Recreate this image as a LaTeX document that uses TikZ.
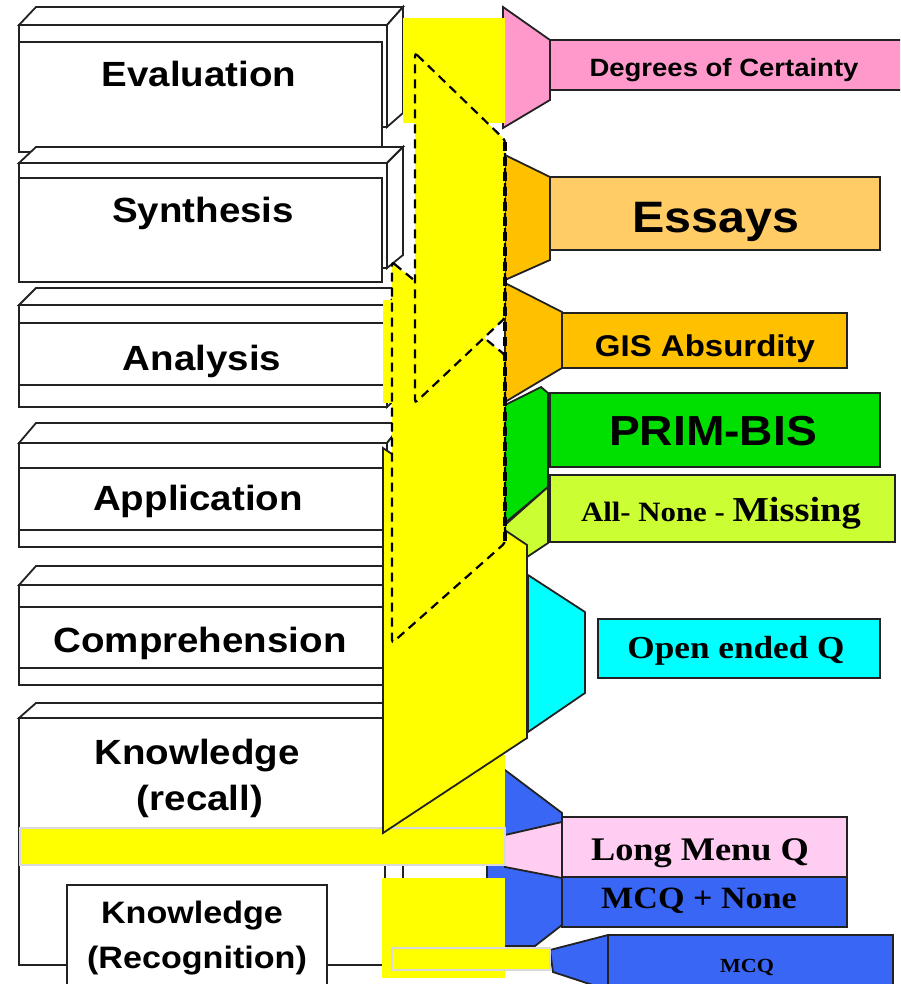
\documentclass[tikz,border=0pt]{standalone}
\usepackage{fontspec}
\setmainfont{Liberation Sans}[FakeStretch=1.1]
\newfontfamily\serifb{Liberation Serif}[FakeStretch=1.1]
\definecolor{ylw}{HTML}{FFFF00}
\definecolor{pinkc}{HTML}{FF99CC}
\definecolor{orl}{HTML}{FFCC66}
\definecolor{ord}{HTML}{FFC000}
\definecolor{grn}{HTML}{00E000}
\definecolor{limec}{HTML}{CCFF33}
\definecolor{cyn}{HTML}{00FFFF}
\definecolor{lpink}{HTML}{FFCCF2}
\definecolor{blu}{HTML}{3A66F5}
\definecolor{edge}{HTML}{222222}
\newcommand\bslab[5]{%
  \draw[slabf] (19,#2) rectangle (387,#5);
  \draw[slabf] (19,#2) -- (36,#1) -- (403,#1) -- (387,#2) -- cycle;
  \draw[slabf] (387,#2) -- (403,#1) -- (403,{#5-15}) -- (387,#5) -- cycle;
  \draw[ln] (19,#3) -- (387,#3) (19,#4) -- (387,#4);
}
\begin{document}
\begin{tikzpicture}[x=1pt,y=-1pt,
  ln/.style={draw=edge, line width=1.8pt},
  slabf/.style={ln, fill=white},
  lab/.style={anchor=base, inner sep=0pt, font=\bfseries\fontsize{35}{40}\selectfont},
  rlab/.style={anchor=base, inner sep=0pt, font=\bfseries},
  slab/.style={anchor=base, inner sep=0pt, font=\serifb\bfseries},
  dsh/.style={draw=black, line width=2.2pt, dash pattern=on 9pt off 6pt},
  lbar/.style={fill=ylw, draw=black!15, line width=1.2pt}]
\path[use as bounding box] (0,0) rectangle (900,984);
\clip (0,0) rectangle (900,984);

% ---------- left slabs ----------
% Evaluation
\draw[slabf] (19,25) rectangle (387,127);
\draw[slabf] (19,25) -- (36,7) -- (403,7) -- (387,25) -- cycle;
\draw[slabf] (387,25) -- (403,7) -- (403,113) -- (387,127) -- cycle;
\draw[slabf] (19,42) rectangle (382,152);
% Synthesis
\draw[slabf] (19,163) rectangle (387,268);
\draw[slabf] (19,163) -- (36,147) -- (403,147) -- (387,163) -- cycle;
\draw[slabf] (387,163) -- (403,147) -- (403,255) -- (387,268) -- cycle;
\draw[slabf] (19,178) rectangle (382,282);
% Analysis, Application, Comprehension
\bslab{288}{305}{323}{385}{407}
\bslab{423}{443}{468}{530}{547}
\bslab{566}{585}{607}{668}{685}
% Knowledge
\draw[slabf] (19,718) rectangle (385,965);
\draw[slabf] (19,718) -- (36,703) -- (403,703) -- (385,718) -- cycle;
\draw[slabf] (385,718) -- (403,703) -- (403,950) -- (385,965) -- cycle;
\draw[slabf] (67,885) rectangle (327,1000);

% ---------- right trapezoids and boxes ----------
\draw[ln, fill=pinkc] (503,7) -- (550,40) -- (550,100) -- (503,128) -- cycle;
\draw[ln, fill=pinkc] (550,40) rectangle (910,90);
\draw[ln, fill=ord] (505,155) -- (550,177) -- (550,260) -- (505,280) -- cycle;
\draw[ln, fill=orl] (550,177) rectangle (880,250);
\draw[ln, fill=ord] (505,283) -- (562,312) -- (562,368) -- (505,402) -- cycle;
\draw[ln, fill=ord] (562,313) rectangle (847,368);
\draw[ln, fill=grn] (505,405) -- (541,387) -- (548,393) -- (548,487) -- (505,523) -- cycle;
\draw[ln, fill=grn] (550,393) rectangle (880,467);
\draw[ln, fill=limec] (505,525) -- (548,487) -- (548,543) -- (527,557) -- (505,557) -- cycle;
\draw[ln, fill=limec] (550,475) rectangle (895,542);
\draw[ln, fill=cyn] (528,575) -- (585,612) -- (585,693) -- (528,732) -- cycle;
\draw[ln, fill=cyn] (598,619) rectangle (880,678);
\draw[ln, fill=blu] (487,770) -- (505,770) -- (562,813) -- (562,925) -- (535,946) -- (487,946) -- cycle;
\draw[ln, fill=lpink] (505,835) -- (562,822) -- (562,878) -- (505,867) -- cycle;
\draw[ln, fill=lpink] (562,817) rectangle (847,877);
\draw[ln, fill=blu] (562,877) rectangle (847,927);
\draw[ln, fill=blu] (550,950) -- (608,935) -- (608,990) -- (553,972) -- cycle;
\draw[ln, fill=blu] (608,935) rectangle (893,995);

% ---------- yellow column ----------
\fill[ylw] (403,18) rectangle (505,123);
\fill[ylw] (383,300) rectangle (400,403);
\fill[ylw] (383,755) rectangle (505,835);
\draw[lbar] (20,828) rectangle (505,865);
\draw[ln, fill=ylw] (383,448) -- (527,545) -- (527,738) -- (383,833) -- cycle;
\fill[ylw] (392,262) -- (505,355) -- (505,543) -- (392,643) -- cycle;
\draw[dsh, rounded corners=3pt] (392,262) -- (505,355) -- (505,543) -- (392,643) -- cycle;
\fill[ylw] (415,53) -- (505,140) -- (505,318) -- (415,403) -- cycle;
\draw[dsh, rounded corners=3pt] (415,53) -- (505,140) -- (505,318) -- (415,403) -- cycle;
\draw[dsh, line width=3.4pt] (505,142) -- (505,541);
\fill[ylw] (382,878) rectangle (505,978);
\draw[lbar] (392,948) rectangle (550,970);

% ---------- texts ----------
\node[lab] (teval) at (199,87) {Evaluation};
\node[lab] (tsyn) at (203,223) {Synthesis};
\node[lab] (tana) at (202,370) {Analysis};
\node[lab] (tapp) at (198,510) {Application};
\node[lab] (tcom) at (200,652) {Comprehension};
\node[lab] (tkn1) at (197,764) {Knowledge};
\node[lab] (tkn2) at (200,810) {(recall)};
\node[lab, font=\bfseries\fontsize{31}{36}\selectfont] (trec1) at (192,923) {Knowledge};
\node[lab, font=\bfseries\fontsize{31}{36}\selectfont] (trec2) at (197,968) {(Recognition)};

\node[rlab, font=\bfseries\fontsize{25}{30}\selectfont] (tdeg) at (724,77) {Degrees of Certainty};
\node[rlab, font=\bfseries\fontsize{44}{50}\selectfont] (tess) at (716,233) {Essays};
\node[rlab, font=\bfseries\fontsize{30}{36}\selectfont] (tgis) at (705,356) {GIS Absurdity};
\node[rlab, font=\bfseries\fontsize{42}{48}\selectfont] (tprim) at (713,445) {PRIM-BIS};
\node[slab] (tall) at (721,521) {\fontsize{28}{32}\selectfont All- None - \fontsize{35}{40}\selectfont Missing};
\node[slab, font=\serifb\bfseries\fontsize{32}{36}\selectfont] (topen) at (736,658) {Open ended Q};
\node[slab, font=\serifb\bfseries\fontsize{33}{38}\selectfont] (tlong) at (700,860) {Long Menu Q};
\node[slab, font=\serifb\bfseries\fontsize{31}{36}\selectfont] (tmcqn) at (699,908) {MCQ + None};
\node[slab, font=\serifb\bfseries\fontsize{20}{24}\selectfont] (tmcq) at (747,972) {MCQ};
\end{tikzpicture}
\end{document}
